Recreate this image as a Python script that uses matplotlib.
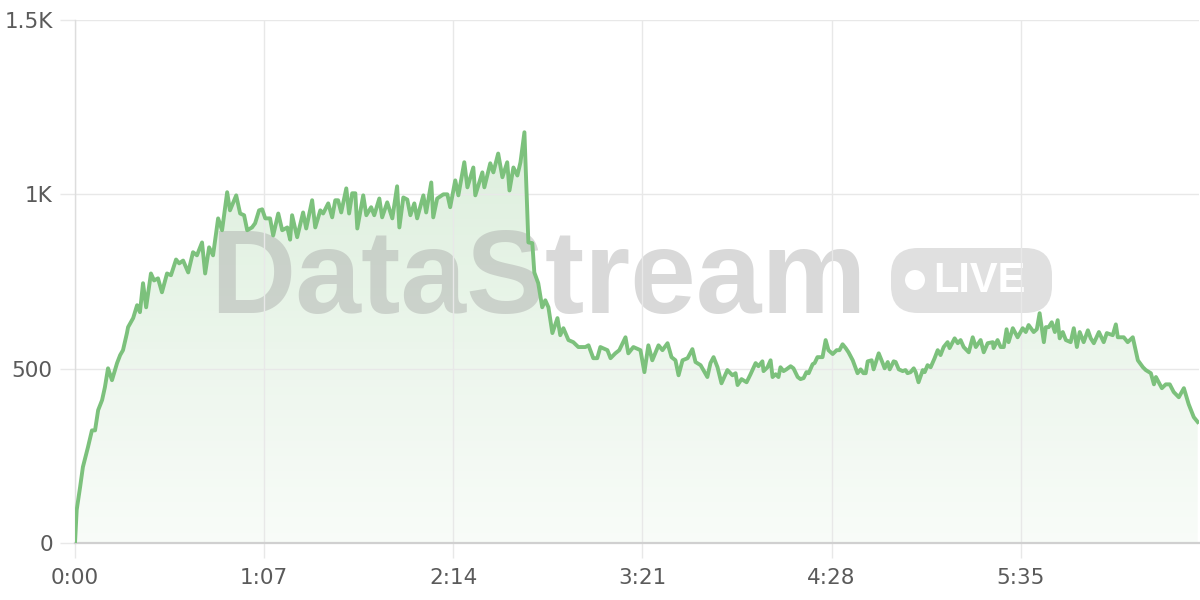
import matplotlib
matplotlib.use("Agg")
import matplotlib.pyplot as plt
import numpy as np
from matplotlib.colors import LinearSegmentedColormap
from matplotlib.patches import FancyBboxPatch, Circle
from matplotlib.ticker import FuncFormatter

# elapsed time (seconds) and values
t_sec = [0.0, 0.6, 1.8, 2.8, 4.6, 6.0, 7.1, 8.2, 9.6, 10.6, 11.7, 13.1, 14.9, 16.0, 17.0, 18.4, 18.8,
         20.6, 22.0, 23.0, 24.1, 25.2, 26.9, 28.0, 29.4, 30.8, 32.6, 34.0, 35.8, 36.9, 38.3, 40.1, 41.8,
         43.2, 45.0, 46.1, 47.5, 48.9, 50.7, 52.1, 53.9, 54.9, 57.1, 58.5, 59.9, 61.0, 62.7, 63.8, 65.2,
         66.3, 67.4, 69.1, 70.2, 72.0, 73.4, 75.2, 76.2, 76.9, 78.7, 80.8, 81.9, 84.0, 85.1, 86.9, 87.9,
         89.7, 91.1, 92.2, 93.2, 94.3, 96.1, 97.1, 98.2, 99.3, 100.0, 102.1, 103.2, 104.9, 106.0, 107.8,
         108.8, 110.6, 112.4, 114.1, 114.9, 116.3, 117.7, 118.8, 120.2, 121.2, 123.4, 124.4, 126.2, 126.9,
         128.3, 130.5, 131.9, 132.9, 134.7, 135.8, 137.9, 139.0, 141.1, 141.8, 144.3, 145.0, 147.1, 148.2,
         149.9, 151.4, 153.1, 153.9, 155.3, 156.7, 157.8, 159.2, 160.2, 160.6, 162.0, 162.7, 164.1, 165.5,
         166.6, 167.7, 169.1, 170.9, 171.9, 173.0, 174.8, 176.5, 178.3, 180.8, 181.9, 183.6, 185.0, 186.1,
         188.6, 189.7, 191.4, 192.8, 195.0, 196.0, 197.8, 200.3, 201.7, 203.1, 204.5, 206.7, 208.1, 209.9,
         211.3, 212.7, 213.8, 215.2, 217.0, 218.7, 219.8, 221.6, 224.0, 225.1, 226.2, 227.6, 229.0, 231.1,
         232.9, 234.0, 234.7, 236.1, 237.9, 239.3, 241.1, 242.1, 243.5, 243.9, 245.3, 246.4, 247.1, 248.2,
         249.2, 249.9, 251.0, 252.0, 253.5, 254.5, 256.0, 257.0, 258.1, 259.1, 259.9, 261.3, 262.0, 263.0,
         264.8, 265.9, 266.9, 268.4, 269.8, 270.8, 271.9, 273.0, 274.0, 275.5, 277.2, 278.3, 279.3, 280.1,
         280.8, 282.2, 282.9, 284.7, 286.1, 286.8, 287.9, 288.6, 290.0, 290.7, 291.8, 293.2, 294.2, 294.9,
         296.0, 297.1, 297.8, 298.8, 300.3, 301.0, 302.0, 303.1, 304.5, 305.6, 306.6, 307.7, 309.1, 309.8,
         311.6, 312.7, 313.7, 314.8, 316.6, 318.0, 319.1, 320.8, 321.9, 323.3, 325.1, 325.4, 326.8, 327.9,
         329.0, 330.0, 330.7, 332.2, 333.9, 335.7, 336.8, 337.8, 339.6, 340.7, 341.7, 343.2, 343.9, 344.9,
         346.0, 347.1, 348.1, 348.8, 349.9, 351.0, 352.7, 353.8, 354.9, 355.9, 357.3, 358.8, 359.8, 360.9,
         362.7, 364.4, 365.5, 367.6, 368.7, 369.4, 371.5, 372.9, 374.7, 376.5, 378.3, 379.3, 381.1, 382.2,
         382.9, 385.0, 386.4, 387.8, 389.2, 391.0, 392.8, 394.5, 396.3, 397.7]
values = [0, 95, 160, 218, 275, 323, 323, 381, 410, 447, 501, 467, 516, 539, 553, 602, 619,
          645, 682, 662, 745, 676, 773, 753, 759, 719, 773, 768, 813, 802, 810, 776, 834,
          825, 862, 773, 848, 825, 931, 897, 1006, 954, 997, 945, 940, 897, 905, 917, 954,
          957, 931, 931, 882, 945, 897, 905, 870, 940, 877, 948, 902, 983, 905, 954, 945,
          974, 934, 983, 983, 948, 1017, 945, 1003, 1003, 902, 997, 940, 963, 940, 988,
          934, 977, 931, 1023, 905, 991, 985, 940, 974, 931, 997, 948, 1034, 934,
          988, 1000, 1000, 963, 1040, 997, 1092, 1020, 1077, 997, 1063, 1020, 1089, 1063,
          1117, 1049, 1092, 1011, 1077, 1054, 1092, 1178, 954, 862, 860, 776, 745, 676,
          696, 676, 602, 645, 596, 616, 582, 576, 562, 562, 567, 530, 530, 562,
          553, 530, 544, 553, 590, 544, 562, 553, 490, 567, 524, 567, 553, 573,
          533, 524, 481, 524, 530, 556, 519, 510, 476, 516, 533, 504, 458, 496,
          481, 487, 453, 470, 461, 484, 516, 507, 521, 493, 504, 524, 476, 484,
          476, 504, 493, 498, 507, 501, 476, 470, 473, 490, 487, 513, 516, 533,
          533, 582, 553, 542, 553, 553, 570, 559, 547, 524, 487, 498, 487, 487,
          521, 524, 498, 544, 516, 501, 519, 498, 521, 519, 498, 493, 496, 487,
          490, 501, 490, 461, 496, 490, 510, 504, 530, 553, 539, 562, 576, 559,
          587, 573, 582, 562, 547, 590, 562, 582, 547, 573, 576, 559, 582, 562,
          562, 613, 576, 616, 590, 616, 605, 625, 605, 613, 659, 576, 619, 619,
          633, 605, 639, 587, 605, 582, 576, 616, 562, 605, 576, 610, 587, 573,
          605, 576, 602, 596, 627, 590, 590, 576, 590, 524, 504, 496, 487, 455,
          476, 444, 455, 455, 433, 418, 444, 398, 361, 347]

x_ticks = [0, 67, 134, 201, 268, 335]
y_ticks = [0, 500, 1000, 1500]
y_labels = ["0", "500", "1K", "1.5K"]

line_color = "#7cc17c"
grid_color = "#e8e8e8"

fig = plt.figure(figsize=(12, 6), dpi=100)
ax = fig.add_axes([0.0625, 0.095, 0.9363, 0.8717])

t = np.array(t_sec)
v = np.array(values)

# gradient fill under the line
poly = ax.fill_between(t, v, 0, color="none", lw=0)
cmap = LinearSegmentedColormap.from_list(
    "fade", [(0.49, 0.76, 0.49, 0.05), (0.49, 0.76, 0.49, 0.26)])
grad = np.linspace(0, 1, 256).reshape(-1, 1)
im = ax.imshow(grad, cmap=cmap, aspect="auto", origin="lower",
               extent=[t.min(), t.max(), 0, v.max()], zorder=0.8)
im.set_clip_path(poly.get_paths()[0], transform=ax.transData)

ax.plot(t, v, color=line_color, lw=2.8, solid_joinstyle="round", zorder=3)

ax.set_xlim(0, 398)
ax.set_ylim(0, 1500)
ax.set_xticks(x_ticks)
ax.xaxis.set_major_formatter(FuncFormatter(lambda s, p: f"{int(s) // 60}:{int(s) % 60:02d}"))
ax.set_yticks(y_ticks)
ax.set_yticklabels(y_labels)

ax.set_axisbelow("line")
ax.grid(True, color=grid_color, lw=1)
ax.tick_params(axis="both", colors=grid_color, labelcolor="#5a5a5a", labelsize=15.5,
               length=11, width=1)
ax.tick_params(axis="x", pad=7)
ax.tick_params(axis="y", pad=5)

for side in ["top", "right"]:
    ax.spines[side].set_visible(False)
ax.spines["left"].set_color("#dddddd")
ax.spines["left"].set_linewidth(1)
ax.spines["bottom"].set_color("#d0d0d0")
ax.spines["bottom"].set_linewidth(1.6)
ax.yaxis.get_major_ticks()[0].tick1line.set_color("#d0d0d0")

# watermark
inch = fig.dpi_scale_trans
ax.text(2.10, 2.87, "DataStream", transform=inch, family="Liberation Sans",
        fontweight="bold", fontsize=85, color="#a0a0a0", alpha=0.4,
        ha="left", va="baseline", zorder=1)
pill = FancyBboxPatch((8.91, 2.87), 1.61, 0.65, boxstyle="round,pad=0,rounding_size=0.27",
                      transform=inch, facecolor="#bbbbbb", edgecolor="none", alpha=0.45,
                      clip_on=False, zorder=1)
ax.add_patch(pill)
ax.add_patch(Circle((9.15, 3.20), 0.10, transform=inch, facecolor="white",
                    edgecolor="none", clip_on=False, zorder=1.1))
ax.text(9.33, 3.195, "LIVE", transform=inch, family="Liberation Sans", fontweight="bold",
        fontsize=30, color="white", ha="left", va="center", zorder=1.1)

plt.savefig("out.png", dpi=100)
